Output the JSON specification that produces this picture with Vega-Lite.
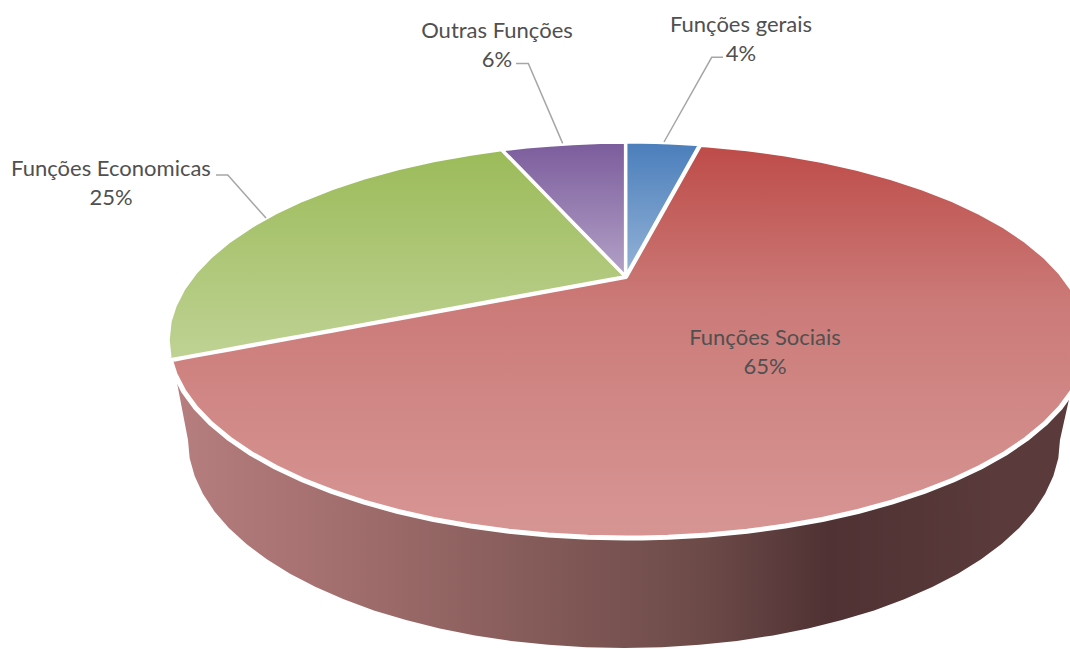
{"$schema":"https://vega.github.io/schema/vega-lite/v6.json","width":1070,"height":649,"padding":0,"autosize":{"type":"none"},"background":"white","config":{"view":{"stroke":null}},
"datasets":{
"side":[
{"x":-98.3,"y":-18.4,"y2":-18.4},{"x":-95.65,"y":-29.17,"y2":-50.5},{"x":-95.29,"y":-30.33,"y2":-59.66},{"x":-94.21,"y":-33.53,"y2":-68.74},{"x":-92.42,"y":-38.2,"y2":-77.69},{"x":-89.94,"y":-43.72,"y2":-86.43},{"x":-86.77,"y":-49.71,"y2":-94.9},{"x":-82.95,"y":-55.85,"y2":-103.03},{"x":-78.51,"y":-61.94,"y2":-110.76},{"x":-73.47,"y":-67.84,"y2":-118.03},{"x":-67.89,"y":-73.42,"y2":-124.78},{"x":-61.79,"y":-78.63,"y2":-130.97},{"x":-55.24,"y":-83.36,"y2":-136.56},{"x":-48.26,"y":-87.58,"y2":-141.47},{"x":-40.92,"y":-91.25,"y2":-145.71},{"x":-33.28,"y":-94.3,"y2":-149.22},{"x":-25.4,"y":-96.72,"y2":-151.97},{"x":-17.32,"y":-98.49,"y2":-153.95},{"x":-9.13,"y":-99.58,"y2":-155.15},{"x":-0.87,"y":-100,"y2":-155.55},{"x":7.39,"y":-99.73,"y2":-155.15},{"x":15.58,"y":-98.78,"y2":-153.95},{"x":23.66,"y":-97.16,"y2":-151.97},{"x":31.54,"y":-94.89,"y2":-149.22},{"x":39.18,"y":-92,"y2":-145.71},{"x":46.52,"y":-88.52,"y2":-141.47},{"x":53.5,"y":-84.49,"y2":-136.56},{"x":60.05,"y":-79.96,"y2":-130.97},{"x":66.15,"y":-74.99,"y2":-124.78},{"x":71.73,"y":-69.68,"y2":-118.03},{"x":76.77,"y":-64.08,"y2":-110.76},{"x":81.21,"y":-58.35,"y2":-103.03},{"x":85.03,"y":-52.63,"y2":-94.9},{"x":88.2,"y":-47.13,"y2":-86.43},{"x":90.68,"y":-42.15,"y2":-77.69},{"x":92.47,"y":-38.07,"y2":-68.74},{"x":93.55,"y":-35.33,"y2":-59.66},{"x":93.91,"y":-34.37,"y2":-50.5},{"x":96.09,"y":-27.7,"y2":-27.7}],
"red":[
{"x":-99.5,"y":-10,"y2":-10},{"x":-98.48,"y":-9.57,"y2":-17.36},{"x":-96.59,"y":-8.77,"y2":-25.88},{"x":-93.97,"y":-7.65,"y2":-34.2},{"x":-90.63,"y":-6.24,"y2":-42.26},{"x":-86.6,"y":-4.53,"y2":-50},{"x":-81.92,"y":-2.54,"y2":-57.36},{"x":-76.6,"y":-0.29,"y2":-64.28},{"x":-70.71,"y":2.21,"y2":-70.71},{"x":-64.28,"y":4.94,"y2":-76.6},{"x":-57.36,"y":7.88,"y2":-81.92},{"x":-50,"y":11,"y2":-86.6},{"x":-42.26,"y":14.28,"y2":-90.63},{"x":-34.2,"y":17.7,"y2":-93.97},{"x":-25.88,"y":21.23,"y2":-96.59},{"x":-17.36,"y":24.84,"y2":-98.48},{"x":-8.72,"y":28.51,"y2":-99.62},{"x":-0.5,"y":32,"y2":-100},{"x":3,"y":46.47,"y2":-99.95},{"x":8.72,"y":70.12,"y2":-99.62},{"x":15.65,"y":98.77,"y2":-98.77},{"x":17.36,"y":98.48,"y2":-98.48},{"x":25.88,"y":96.59,"y2":-96.59},{"x":34.2,"y":93.97,"y2":-93.97},{"x":42.26,"y":90.63,"y2":-90.63},{"x":50,"y":86.6,"y2":-86.6},{"x":57.36,"y":81.92,"y2":-81.92},{"x":64.28,"y":76.6,"y2":-76.6},{"x":70.71,"y":70.71,"y2":-70.71},{"x":76.6,"y":64.28,"y2":-64.28},{"x":81.92,"y":57.36,"y2":-57.36},{"x":86.6,"y":50,"y2":-50},{"x":90.63,"y":42.26,"y2":-42.26},{"x":93.97,"y":34.2,"y2":-34.2},{"x":96.59,"y":25.88,"y2":-25.88},{"x":98.48,"y":17.36,"y2":-17.36},{"x":99.62,"y":8.72,"y2":-8.72},{"x":100,"y":0,"y2":0}],
"green":[
{"x":-100,"y":0,"y2":0},{"x":-99.62,"y":8.72,"y2":-8.72},{"x":-99.5,"y":10,"y2":-10},{"x":-98.48,"y":17.36,"y2":-9.57},{"x":-96.59,"y":25.88,"y2":-8.77},{"x":-93.97,"y":34.2,"y2":-7.65},{"x":-90.63,"y":42.26,"y2":-6.24},{"x":-86.6,"y":50,"y2":-4.53},{"x":-81.92,"y":57.36,"y2":-2.54},{"x":-76.6,"y":64.28,"y2":-0.29},{"x":-70.71,"y":70.71,"y2":2.21},{"x":-64.28,"y":76.6,"y2":4.94},{"x":-57.36,"y":81.92,"y2":7.88},{"x":-50,"y":86.6,"y2":11},{"x":-42.26,"y":90.63,"y2":14.28},{"x":-34.2,"y":93.97,"y2":17.7},{"x":-27.46,"y":96.16,"y2":20.56},{"x":-17,"y":71.27,"y2":25},{"x":-6,"y":45.09,"y2":29.66},{"x":-0.5,"y":32,"y2":32}],
"purple":[
{"x":-27.46,"y":96.16,"y2":96.16},{"x":-22,"y":97.55,"y2":83.17},{"x":-17,"y":98.54,"y2":71.27},{"x":-12,"y":99.28,"y2":59.37},{"x":-6,"y":99.82,"y2":45.09},{"x":-0.5,"y":100,"y2":32}],
"blue":[
{"x":-0.5,"y":100,"y2":32},{"x":3,"y":99.95,"y2":46.47},{"x":6,"y":99.82,"y2":58.87},{"x":9,"y":99.59,"y2":71.27},{"x":12,"y":99.28,"y2":83.68},{"x":15.65,"y":98.77,"y2":98.77}],
"leaders":[
{"slice":"Funções gerais","step":1,"x":7.83,"y":100},{"slice":"Funções gerais","step":2,"x":18.2,"y":142.8},{"slice":"Funções gerais","step":3,"x":20.65,"y":142.8},
{"slice":"Outras Funções","step":1,"x":-14.2,"y":99.3},{"slice":"Outras Funções","step":2,"x":-21.67,"y":139.7},{"slice":"Outras Funções","step":3,"x":-24.35,"y":139.7},
{"slice":"Funções Economicas","step":1,"x":-78.7,"y":61.6},{"slice":"Funções Economicas","step":2,"x":-87,"y":83.3},{"slice":"Funções Economicas","step":3,"x":-89.57,"y":83.3}],
"labels":[
{"label":"Funções gerais\n4%","share":4,"x":24.57,"y":159.3},
{"label":"Outras Funções\n6%","share":6,"x":-28.48,"y":156.3},
{"label":"Funções Economicas\n25%","share":25,"x":-112.39,"y":86.6},
{"label":"Funções Sociais\n65%","share":65,"x":29.78,"y":0.8}]
},
"encoding":{
"x":{"field":"x","type":"quantitative","axis":null,"scale":{"domain":[-136.52,96.09],"nice":false,"zero":false}},
"y":{"field":"y","type":"quantitative","axis":null,"scale":{"domain":[-156.06,171.72],"nice":false,"zero":false}}
},
"layer":[
{"data":{"name":"side"},"mark":{"type":"area","clip":true,"color":{"gradient":"linear","x1":0,"y1":0,"x2":1,"y2":0,"stops":[{"offset":0,"color":"#B67E7E"},{"offset":0.14,"color":"#A87272"},{"offset":0.36,"color":"#8A5F5D"},{"offset":0.59,"color":"#6C4A48"},{"offset":0.73,"color":"#503234"},{"offset":0.92,"color":"#5A3A3A"},{"offset":1,"color":"#5A3A3A"}]}},"encoding":{"y2":{"field":"y2"}}},
{"data":{"name":"red"},"mark":{"type":"area","clip":true,"stroke":"white","strokeWidth":5,"strokeJoin":"round","color":{"gradient":"linear","x1":0,"y1":0,"x2":0,"y2":1,"stops":[{"offset":0,"color":"#BE4B48"},{"offset":0.14,"color":"#C25C59"},{"offset":0.4,"color":"#CB7A78"},{"offset":0.65,"color":"#D08785"},{"offset":0.9,"color":"#D59290"},{"offset":1,"color":"#D69492"}]}},"encoding":{"y2":{"field":"y2"}}},
{"data":{"name":"green"},"mark":{"type":"area","clip":true,"stroke":"white","strokeWidth":3.5,"strokeJoin":"round","color":{"gradient":"linear","x1":0,"y1":0,"x2":0,"y2":1,"stops":[{"offset":0,"color":"#9BBB59"},{"offset":1,"color":"#BFD294"}]}},"encoding":{"y2":{"field":"y2"}}},
{"data":{"name":"purple"},"mark":{"type":"area","clip":true,"stroke":"white","strokeWidth":3.5,"strokeJoin":"round","color":{"gradient":"linear","x1":0,"y1":0,"x2":0,"y2":1,"stops":[{"offset":0,"color":"#7B5C9C"},{"offset":1,"color":"#B3A2C7"}]}},"encoding":{"y2":{"field":"y2"}}},
{"data":{"name":"blue"},"mark":{"type":"area","clip":true,"stroke":"white","strokeWidth":3.5,"strokeJoin":"round","color":{"gradient":"linear","x1":0,"y1":0,"x2":0,"y2":1,"stops":[{"offset":0,"color":"#4A7EBB"},{"offset":1,"color":"#95B3D7"}]}},"encoding":{"y2":{"field":"y2"}}},
{"data":{"name":"leaders"},"mark":{"type":"line","color":"#A6A6A6","strokeWidth":1.5},"encoding":{"detail":{"field":"slice"},"order":{"field":"step"}}},
{"data":{"name":"labels"},"mark":{"type":"text","font":"Lato","fontSize":22,"color":"#505050","align":"center","baseline":"middle","lineBreak":"\n","lineHeight":29},"encoding":{"text":{"field":"label"}}}
]}
